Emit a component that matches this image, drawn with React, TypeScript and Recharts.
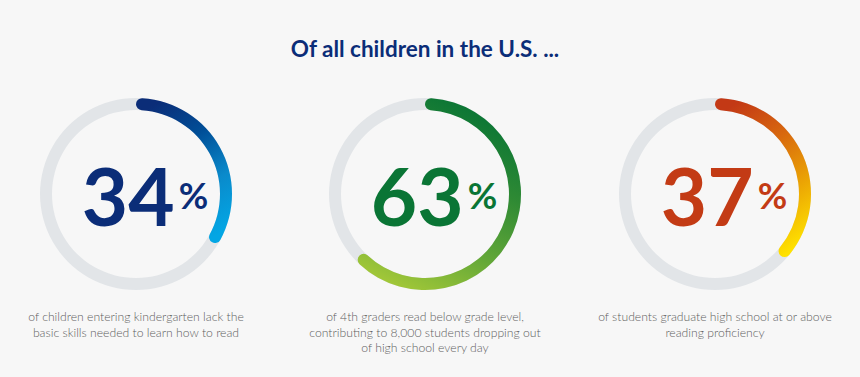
import React from 'react';
import { PieChart, Pie, Cell } from 'recharts';

const categories = ['kindergarten', 'fourthGrade', 'graduation'];
const values = [34, 63, 37];
const captions = [
  ['of children entering kindergarten lack the', 'basic skills needed to learn how to read'],
  ['of 4th graders read below grade level,', 'contributing to 8,000 students dropping out', 'of high school every day'],
  ['of students graduate high school at or above', 'reading proficiency'],
];
const numberColors = ['#0b2d78', '#0a7535', '#c33b15'];
const gradientStops = [
  ['#0b2d78', '#004f98', '#0a8acb', '#03a6e4'],
  ['#0a7535', '#2f8a34', '#64a838', '#a7ca38'],
  ['#c33915', '#d8680e', '#eba404', '#ffe200'],
];
const gradientDirs = [
  { x1: 0.3, y1: 0, x2: 0.7, y2: 1 },
  { x1: 0.6, y1: 0, x2: 0.2, y2: 1 },
  { x1: 0.3, y1: 0, x2: 0.7, y2: 1 },
];
const centersX = [136, 425, 715];
const title = 'Of all children in the U.S. ...';

const WIDTH = 860;
const HEIGHT = 377;
const CY = 194;
const INNER = 84;
const OUTER = 96;

export default function App() {
  return (
    <div
      style={{
        position: 'absolute',
        left: 0,
        top: 0,
        width: WIDTH,
        height: HEIGHT,
        background: '#f7f7f7',
      }}
    >
      <PieChart width={WIDTH} height={HEIGHT} margin={{ top: 0, right: 0, bottom: 0, left: 0 }}>
        <defs>
          {categories.map((c, i) => (
            <linearGradient key={c} id={`grad-${c}`} {...gradientDirs[i]}>
              {gradientStops[i].map((col, j) => (
                <stop key={j} offset={j / (gradientStops[i].length - 1)} stopColor={col} />
              ))}
            </linearGradient>
          ))}
        </defs>

        {categories.map((c, i) => (
          <Pie
            key={`track-${c}`}
            data={[{ name: 'track', value: 100 }]}
            dataKey="value"
            cx={centersX[i]}
            cy={CY}
            innerRadius={INNER}
            outerRadius={OUTER}
            startAngle={90}
            endAngle={-270}
            stroke="none"
            fill="#e2e5e8"
            isAnimationActive={false}
          />
        ))}

        {categories.map((c, i) => (
          <Pie
            key={`value-${c}`}
            data={[
              { name: c, value: values[i] },
              { name: 'rest', value: 100 - values[i] },
            ]}
            dataKey="value"
            cx={centersX[i]}
            cy={CY}
            innerRadius={INNER}
            outerRadius={OUTER}
            startAngle={90}
            endAngle={-270}
            cornerRadius={6}
            stroke="none"
            isAnimationActive={false}
          >
            <Cell fill={`url(#grad-${c})`} />
            <Cell fill="transparent" />
          </Pie>
        ))}

        <text
          x={425}
          y={57}
          textAnchor="middle"
          fontFamily="Lato, sans-serif"
          fontWeight={700}
          fontSize={22.5}
          fill="#0b2d78"
        >
          {title}
        </text>

        {categories.map((c, i) => (
          <text
            key={`num-${c}`}
            x={centersX[i] + 9}
            y={CY + 32}
            textAnchor="middle"
            fontFamily="Lato, sans-serif"
            fontWeight={700}
            fill={numberColors[i]}
          >
            <tspan fontSize={80}>{values[i]}</tspan>
            <tspan fontSize={36} dx={4} dy={-17}>%</tspan>
          </text>
        ))}

        {categories.map((c, i) => (
          <text
            key={`cap-${c}`}
            textAnchor="middle"
            fontFamily="Lato, sans-serif"
            fontWeight={300}
            fontSize={12.2}
            fill="#5e5e5e"
          >
            {captions[i].map((line, j) => (
              <tspan key={j} x={centersX[i]} y={321 + j * 15.5}>
                {line}
              </tspan>
            ))}
          </text>
        ))}
      </PieChart>
    </div>
  );
}
